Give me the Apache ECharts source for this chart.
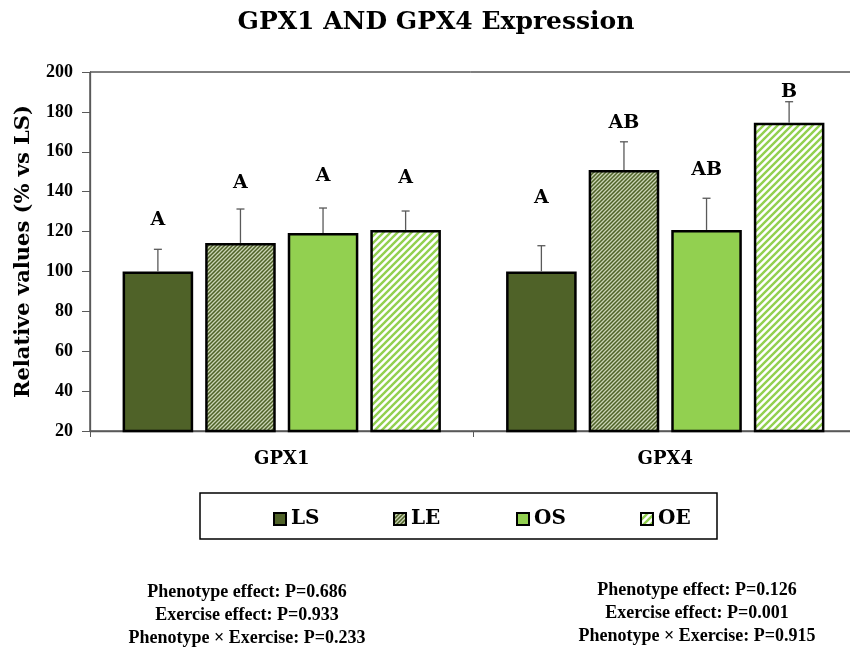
<!DOCTYPE html>
<html><head><meta charset="utf-8">
<script src="https://cdn.jsdelivr.net/npm/echarts@6/dist/echarts.min.js"></script>
<style>html,body{margin:0;padding:0;background:#fff}#c{width:850px;height:652px}</style>
</head><body><div id="c"></div>
<script>
const categories = ['GPX1', 'GPX4'];
const seriesNames = ['LS', 'LE', 'OS', 'OE'];
const LS = [100, 100];
const LE = [114.3, 150.9];
const OS = [119.3, 120.8];
const OE = [120.8, 174.6];
const errLS = [11.1, 12.9];
const errLE = [17.0, 14.1];
const errOS = [12.5, 15.9];
const errOE = [9.5, 10.5];
const lettersLS = ['A', 'A'];
const lettersLE = ['A', 'AB'];
const lettersOS = ['A', 'AB'];
const lettersOE = ['A', 'B'];
const letterPosLS = [125.8, 136.8];
const letterPosLE = [144.3, 174.4];
const letterPosOS = [147.9, 150.9];
const letterPosOE = [146.9, 190];
const yTicks = [20, 200, 20]; // min, max, interval
const statsGPX1 = ['Phenotype effect: P=0.686', 'Exercise effect: P=0.933', 'Phenotype \u00d7 Exercise: P=0.233'];
const statsGPX4 = ['Phenotype effect: P=0.126', 'Exercise effect: P=0.001', 'Phenotype \u00d7 Exercise: P=0.915'];

const FONT = '"DejaVu Serif", "Liberation Serif", serif';
const TFONT = '"Liberation Serif", serif';

function stripes(bg, fg, size, lw) {
  const c = document.createElement('canvas');
  c.width = size; c.height = size;
  const ctx = c.getContext('2d');
  ctx.fillStyle = bg; ctx.fillRect(0, 0, size, size);
  ctx.strokeStyle = fg; ctx.lineWidth = lw;
  ctx.beginPath();
  ctx.moveTo(-1, size + 1); ctx.lineTo(size + 1, -1);
  ctx.moveTo(-1, 1); ctx.lineTo(1, -1);
  ctx.moveTo(size - 1, size + 1); ctx.lineTo(size + 1, size - 1);
  ctx.stroke();
  return c;
}

const fills = [
  '#4F6228',
  { image: stripes('#4F6228', '#c9d3b4', 4, 1.3), repeat: 'repeat' },
  '#92D050',
  { image: stripes('#ffffff', '#92D050', 7, 2.4), repeat: 'repeat' }
];
const vals = [LS, LE, OS, OE];
const errs = [errLS, errLE, errOS, errOE];
const letters = [lettersLS, lettersLE, lettersOS, lettersOE];
const letterPos = [letterPosLS, letterPosLE, letterPosOS, letterPosOE];

const BAR_CAT_GAP = 0.17, BAR_GAP = 0.17;

const barSeries = seriesNames.map((n, i) => ({
  name: n, type: 'bar', data: vals[i],
  barCategoryGap: (BAR_CAT_GAP * 100) + '%', barGap: (BAR_GAP * 100) + '%',
  itemStyle: { color: fills[i], borderColor: '#000', borderWidth: 2.5 },
  z: 2
}));

const errData = [];
for (let g = 0; g < categories.length; g++)
  for (let s = 0; s < seriesNames.length; s++)
    errData.push([g, s, vals[s][g], errs[s][g], letterPos[s][g]]);

const errSeries = {
  type: 'custom', z: 5, silent: true,
  data: errData,
  renderItem: function (params, api) {
    const g = api.value(0), s = api.value(1), m = api.value(2), e = api.value(3), lp = api.value(4);
    const band = api.size([1, 0])[0];
    const barW = band * (1 - BAR_CAT_GAP) / (4 + 3 * BAR_GAP);
    const step = barW * (1 + BAR_GAP);
    const x = api.coord([g, m])[0] + (s - 1.5) * step;
    const y0 = api.coord([g, m])[1];
    const y1 = api.coord([g, m + e])[1];
    const yl = api.coord([g, lp])[1];
    const st = { stroke: '#595959', lineWidth: 1.3 };
    return {
      type: 'group', children: [
        { type: 'line', shape: { x1: x, y1: y0, x2: x, y2: y1 }, style: st },
        { type: 'line', shape: { x1: x - 4, y1: y1, x2: x + 4, y2: y1 }, style: st },
        { type: 'text', style: { x: x, y: yl, text: letters[s][g], textAlign: 'center', textVerticalAlign: 'middle',
          font: 'bold 19px ' + FONT, fill: '#000' } }
      ]
    };
  }
};

function statText(lines, cx, y0) {
  return lines.map((t, i) => ({
    type: 'text', x: cx, y: y0 + i * 23,
    style: { text: t, textAlign: 'center', textVerticalAlign: 'middle', font: 'bold 18px ' + TFONT, fill: '#000' }
  }));
}

const legendLefts = [273, 393, 516, 640];
const legends = seriesNames.map((n, i) => ({
  data: [n], left: legendLefts[i], top: 509, padding: 0,
  itemWidth: 12, itemHeight: 12, icon: 'rect',
  itemStyle: { borderColor: '#000', borderWidth: 2 },
  textStyle: { fontFamily: FONT, fontWeight: 'bold', fontSize: 20, color: '#000' }
}));

const chart = echarts.init(document.getElementById('c'), null, { renderer: 'canvas' });
chart.setOption({
  backgroundColor: '#fff',
  animation: false,
  grid: { left: 90, top: 72, width: 767, height: 359, show: true, borderColor: '#000', borderWidth: 1,
    containLabel: false, outerBoundsMode: 'none' },
  legend: legends,
  xAxis: {
    type: 'category', data: categories,
    axisLine: { lineStyle: { color: '#595959', width: 1.3 } },
    axisTick: { show: true, length: 6, lineStyle: { color: '#595959' } },
    axisLabel: { margin: 19, fontFamily: FONT, fontWeight: 'bold', fontSize: 18, color: '#000' }
  },
  yAxis: {
    type: 'value', min: yTicks[0], max: yTicks[1], interval: yTicks[2],
    name: 'Relative values (% vs LS)', nameLocation: 'middle', nameGap: 56,
    nameTextStyle: { fontFamily: FONT, fontWeight: 'bold', fontSize: 21, color: '#000' },
    axisLine: { show: true, lineStyle: { color: '#595959', width: 1.3 } },
    axisTick: { show: true, length: 8, lineStyle: { color: '#595959' } },
    splitLine: { show: false },
    axisLabel: { margin: 17, fontFamily: TFONT, fontWeight: 'bold', fontSize: 18, color: '#000' }
  },
  series: barSeries.concat([errSeries]),
  graphic: [
    { type: 'text', x: 436, y: 22, style: { text: 'GPX1 AND GPX4 Expression', textAlign: 'center', textVerticalAlign: 'middle',
      font: 'bold 25px ' + FONT, fill: '#000' } },
    { type: 'rect', shape: { x: 200, y: 493, width: 517, height: 46 }, style: { fill: 'none', stroke: '#000', lineWidth: 1.5 }, z: -1 }
  ].concat(statText(statsGPX1, 247, 592)).concat(statText(statsGPX4, 697, 590))
});
</script>
</body></html>
